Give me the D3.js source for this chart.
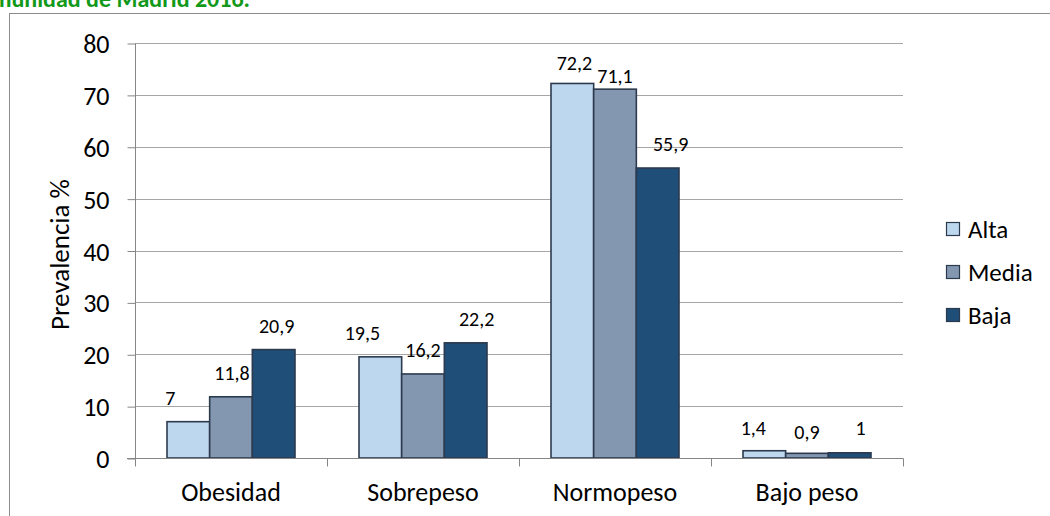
<!DOCTYPE html>
<html>
<head>
<meta charset="utf-8">
<script src="https://cdn.jsdelivr.net/npm/d3@7"></script>
<style>
  html, body { margin: 0; padding: 0; background: #ffffff; }
  svg { display: block; }
  text { font-family: Carlito, Calibri, Lato, "Open Sans", sans-serif; fill: #000; }
</style>
</head>
<body>
<svg id="chart" width="1050" height="516"></svg>
<script>
// Prevalence (%) by weight category and level
const categories = ["Obesidad", "Sobrepeso", "Normopeso", "Bajo peso"];
const seriesNames = ["Alta", "Media", "Baja"];
const alta  = [7, 19.5, 72.2, 1.4];
const media = [11.8, 16.2, 71.1, 0.9];
const baja  = [20.9, 22.2, 55.9, 1];
const yTicks = [0, 10, 20, 30, 40, 50, 60, 70, 80];
const yTitle = "Prevalencia %";
const titleText = "Comunidad de Madrid 2016.";

const seriesValues = [alta, media, baja];
const colors = ["#BDD7EE", "#8497B0", "#1F4E79"];
const barStroke = "#2C3A4E";

// hand-placed label nudges [dx, dy above bar top], per category then series
const labelNudge = [
  [[-18, 24], [1, 24], [3, 24]],
  [[-18, 24], [0, 24], [11, 24]],
  [[2, 20], [0, 13], [13, 24]],
  [[-11, 23], [0, 21], [11, 25]]
];

const svg = d3.select("#chart");
const fmt = v => String(v).replace(".", ",");

// outer chart frame
svg.append("rect")
  .attr("x", 9.5).attr("y", 13.5)
  .attr("width", 1060).attr("height", 520)
  .attr("fill", "none").attr("stroke", "#8C8C8C").attr("stroke-width", 1);

// title (runs off the left edge)
svg.append("text")
  .attr("x", 250).attr("y", 7)
  .attr("text-anchor", "end")
  .style("font-weight", "bold")
  .style("font-size", "24px")
  .style("fill", "#12991A")
  .text(titleText);

const x0 = d3.scaleBand().domain(categories).range([135, 903]).padding(0);
const x1 = d3.scaleBand().domain(seriesNames)
  .range([x0.bandwidth() / 6, x0.bandwidth() * 5 / 6]).padding(0);
const y = d3.scaleLinear().domain([0, 80]).range([458, 43]);

// horizontal gridlines
svg.append("g").selectAll("line")
  .data(yTicks.filter(t => t > 0))
  .join("line")
  .attr("x1", 135).attr("x2", 903)
  .attr("y1", d => Math.round(y(d)) + 0.5).attr("y2", d => Math.round(y(d)) + 0.5)
  .attr("stroke", "#A6A6A6").attr("stroke-width", 1);

// y axis
const yAxis = svg.append("g")
  .attr("transform", "translate(135.5,0.5)")
  .call(d3.axisLeft(y).tickValues(yTicks).tickSize(8).tickPadding(18).tickFormat(d => d));
yAxis.select(".domain").attr("stroke", "#868686").attr("d", `M-0,${y(80)}V${y(0)}`);
yAxis.selectAll(".tick line").attr("stroke", "#868686");
yAxis.selectAll(".tick text")
  .style("font-size", "26px")
  .attr("dy", "0.35em")
  .style("font-family", "Carlito, Calibri, Lato, sans-serif");

// y axis title
svg.append("text")
  .attr("transform", `translate(60,${(y(80) + y(0)) / 2 + 4}) rotate(-90)`)
  .attr("text-anchor", "middle")
  .attr("dy", "0.35em")
  .style("font-size", "27px")
  .text(yTitle);

// bars
const groups = svg.append("g").selectAll("g")
  .data(categories)
  .join("g")
  .attr("transform", d => `translate(${x0(d)},0)`);

groups.selectAll("rect")
  .data((c, i) => seriesNames.map((s, j) => ({ s, j, v: seriesValues[j][i] })))
  .join("rect")
  .attr("x", d => x1(d.s))
  .attr("y", d => y(d.v))
  .attr("width", x1.bandwidth())
  .attr("height", d => y(0) - y(d.v))
  .attr("fill", d => colors[d.j])
  .attr("stroke", barStroke)
  .attr("stroke-width", 1.6);

// x axis with category ticks between groups
const xAxisG = svg.append("g").attr("transform", "translate(0,458.5)");
xAxisG.append("line")
  .attr("x1", 127).attr("x2", 903.5)
  .attr("stroke", "#868686");
xAxisG.selectAll("line.sep")
  .data(d3.range(categories.length + 1))
  .join("line")
  .attr("class", "sep")
  .attr("x1", i => Math.round(135 + i * x0.bandwidth()) + 0.5)
  .attr("x2", i => Math.round(135 + i * x0.bandwidth()) + 0.5)
  .attr("y1", 0).attr("y2", 8)
  .attr("stroke", "#868686");
xAxisG.selectAll("text")
  .data(categories)
  .join("text")
  .attr("x", d => x0(d) + x0.bandwidth() / 2)
  .attr("y", 33)
  .attr("dy", "0.35em")
  .attr("text-anchor", "middle")
  .style("font-size", "26px")
  .text(d => d);

// value labels
groups.selectAll("text.val")
  .data((c, i) => seriesNames.map((s, j) => ({ s, j, i, v: seriesValues[j][i] })))
  .join("text")
  .attr("class", "val")
  .attr("x", d => x1(d.s) + x1.bandwidth() / 2 + labelNudge[d.i][d.j][0])
  .attr("y", d => y(d.v) - labelNudge[d.i][d.j][1])
  .attr("dy", "0.35em")
  .attr("text-anchor", "middle")
  .style("font-size", "20px")
  .text(d => fmt(d.v));

// legend
const legend = svg.append("g").selectAll("g")
  .data(seriesNames)
  .join("g")
  .attr("transform", (d, i) => `translate(946,${229 + i * 43})`);
legend.append("rect")
  .attr("x", 0.5).attr("y", -6.5)
  .attr("width", 13).attr("height", 13)
  .attr("fill", (d, i) => colors[i])
  .attr("stroke", barStroke).attr("stroke-width", 1.2);
legend.append("text")
  .attr("x", 22).attr("y", 0)
  .attr("dy", "0.35em")
  .style("font-size", "25px")
  .text(d => d);
</script>
</body>
</html>
